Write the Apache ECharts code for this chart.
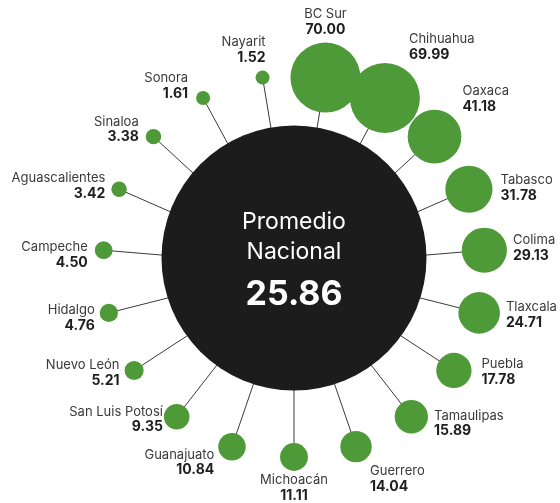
<!DOCTYPE html>
<html>
<head>
<meta charset="utf-8">
<script src="https://cdn.jsdelivr.net/npm/echarts@6/dist/echarts.min.js"></script>
<style>
  html, body { margin: 0; padding: 0; background: #fff; }
  #chart { width: 560px; height: 503px; }
</style>
</head>
<body>
<div id="chart"></div>
<script>
// estados en el sentido de las agujas del reloj, empezando arriba
const estados = ['BC Sur', 'Chihuahua', 'Oaxaca', 'Tabasco', 'Colima', 'Tlaxcala', 'Puebla', 'Tamaulipas',
  'Guerrero', 'Michoacán', 'Guanajuato', 'San Luis Potosí', 'Nuevo León', 'Hidalgo', 'Campeche',
  'Aguascalientes', 'Sinaloa', 'Sonora', 'Nayarit'];
const valores = [70.00, 69.99, 41.18, 31.78, 29.13, 24.71, 17.78, 15.89,
  14.04, 11.11, 10.84, 9.35, 5.21, 4.76, 4.50,
  3.42, 3.38, 1.61, 1.52];
const promedioNacional = 25.86;

// posicion de cada etiqueta junto a su burbuja
const etiquetas = [
  { position: 'top', distance: 5 },
  { position: 'top', align: 'left', offset: [24, 5] },
  { position: 'top', align: 'left', offset: [28, 10] },
  { position: 'right', distance: 8, offset: [0, -1] },
  { position: 'right', distance: 6, offset: [0, -2] },
  { position: 'right', distance: 6, offset: [0, 2] },
  { position: 'right', distance: 10, offset: [0, 2] },
  { position: 'right', distance: 6, offset: [0, 7] },
  { position: 'bottom', align: 'left', offset: [14, -4] },
  { position: 'bottom', distance: 2 },
  { position: 'left', distance: 4, offset: [0, 16] },
  { position: 'left', distance: 1, offset: [0, 3] },
  { position: 'left', distance: 5, offset: [0, 3] },
  { position: 'left', distance: 5, offset: [0, 5] },
  { position: 'left', distance: 7, offset: [0, 5] },
  { position: 'left', distance: 6, offset: [0, -3] },
  { position: 'left', distance: 7, offset: [0, -7] },
  { position: 'left', distance: 8, offset: [0, -12] },
  { position: 'top', align: 'right', distance: 5, offset: [3, 0] }
];

const verde = '#4f9a38';
const fuente = 'Inter, "Noto Sans", sans-serif';

function tamano(v) {
  return Math.max(14, 70 * Math.sqrt(v / 70));
}

const burbujas = estados.map(function (e, i) {
  const et = etiquetas[i];
  let align = et.align;
  if (!align) align = et.position === 'left' ? 'right' : (et.position === 'right' ? 'left' : 'center');
  return {
    name: e,
    value: [1, i, valores[i]],
    label: Object.assign({}, et, { align: align })
  };
});

const chart = echarts.init(document.getElementById('chart'));
chart.setOption({
  animation: false,
  polar: [
    { center: [294, 266], radius: 191 },
    { center: [294, 258], radius: 10 }
  ],
  angleAxis: [
    { polarIndex: 0, type: 'category', data: estados, startAngle: 90, clockwise: true, show: false },
    { polarIndex: 1, type: 'value', min: 0, max: 1, show: false }
  ],
  radiusAxis: [
    { polarIndex: 0, type: 'value', min: 0, max: 1, show: false },
    { polarIndex: 1, type: 'value', min: 0, max: 1, show: false }
  ],
  series: [
    {
      // lineas radiales
      type: 'custom',
      coordinateSystem: 'polar',
      polarIndex: 0,
      z: 1,
      silent: true,
      data: estados.map(function (e, i) { return [1, i]; }),
      renderItem: function (params, api) {
        const p0 = api.coord([0, api.value(1)]);
        const p1 = api.coord([api.value(0), api.value(1)]);
        return {
          type: 'line',
          shape: { x1: p0[0], y1: p0[1], x2: p1[0], y2: p1[1] },
          style: { stroke: '#3a3a3a', lineWidth: 1 }
        };
      }
    },
    {
      type: 'scatter',
      coordinateSystem: 'polar',
      polarIndex: 0,
      z: 2,
      data: burbujas,
      symbolSize: function (val) { return tamano(val[2]); },
      itemStyle: { color: verde, opacity: 1 },
      label: {
        show: true,
        fontFamily: fuente,
        formatter: function (p) {
          return '{n|' + p.name + '}\n{v|' + p.value[2].toFixed(2) + '}';
        },
        rich: {
          n: { fontFamily: fuente, fontSize: 13, color: '#3a3a3a', lineHeight: 15 },
          v: { fontFamily: fuente, fontSize: 14, fontWeight: 'bold', color: '#1e1e1e', lineHeight: 16 }
        }
      }
    },
    {
      // circulo central
      type: 'scatter',
      coordinateSystem: 'polar',
      polarIndex: 1,
      z: 3,
      data: [[0, 0, promedioNacional]],
      symbolSize: 265,
      itemStyle: { color: '#1c1c1c', opacity: 1 },
      label: {
        show: true,
        position: 'inside',
        offset: [0, 7],
        formatter: function (p) {
          return '{a|Promedio}\n{a|Nacional}\n{b|' + p.value[2].toFixed(2) + '}';
        },
        rich: {
          a: { fontFamily: fuente, fontSize: 23, color: '#ffffff', lineHeight: 30 },
          b: { fontFamily: fuente, fontSize: 34, fontWeight: 'bold', color: '#ffffff', lineHeight: 56 }
        }
      }
    }
  ]
});
</script>
</body>
</html>
